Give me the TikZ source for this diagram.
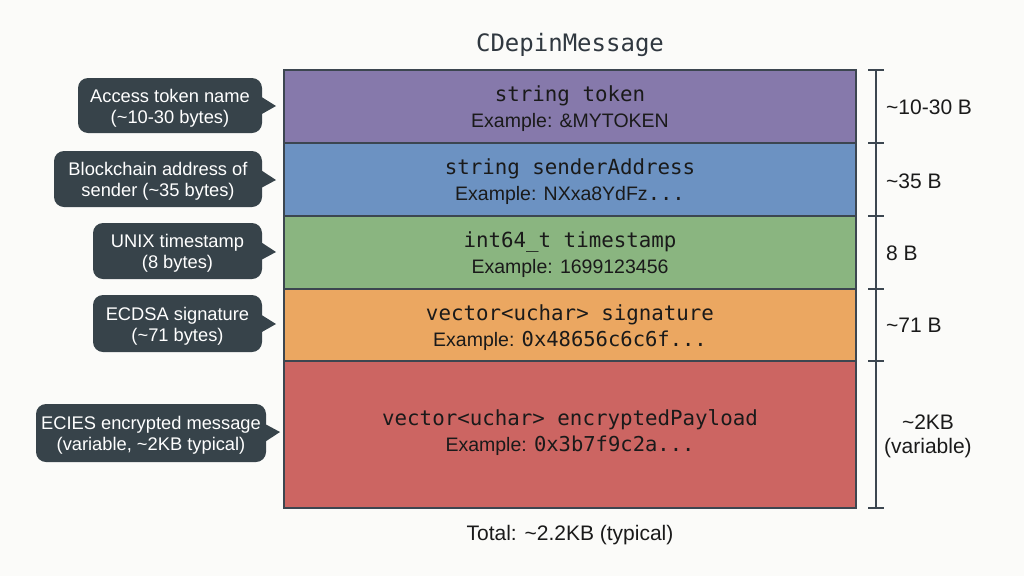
\documentclass[tikz,border=0pt]{standalone}
\usepackage{fontspec}
\setmainfont{Liberation Sans}
\newfontfamily\monof{DejaVu Sans Mono}
\definecolor{bgc}{HTML}{FBFBF9}
\definecolor{cpurple}{HTML}{8679AB}
\definecolor{cblue}{HTML}{6C92C2}
\definecolor{cgreen}{HTML}{8AB580}
\definecolor{corange}{HTML}{EBA761}
\definecolor{cred}{HTML}{CC6562}
\definecolor{edgec}{HTML}{3C4650}
\definecolor{callc}{HTML}{37434A}
\definecolor{txtc}{HTML}{1A1A1A}
\newcommand{\cd}[1]{{\monof\fontsize{20.8}{26}\selectfont #1}}
\newcommand{\cs}[1]{{\monof\fontsize{20.5}{26}\selectfont #1}}
\tikzset{
  rowbox/.style={draw=edgec, line width=1.5pt, minimum width=572pt, inner sep=0pt},
  rowtext/.style={align=center, text=txtc, inner sep=0pt, font=\fontsize{19.5}{26}\selectfont},
  callout/.style={fill=callc, rounded corners=10pt, inner sep=0pt},
  calltext/.style={text=white, align=center, inner sep=0pt, font=\fontsize{18.3}{21}\selectfont},
  pointer/.style={fill=callc},
  scalebar/.style={draw=edgec, line width=1.5pt},
  sizelab/.style={anchor=west, text=txtc, inner sep=0pt, font=\fontsize{21}{24}\selectfont, align=center}
}
\begin{document}
\begin{tikzpicture}[x=1pt,y=-1pt]
\fill[bgc] (0,0) rectangle (1024,576);
\useasboundingbox (0,0) rectangle (1024,576);

\node[text=edgec!80!black, font=\monof\fontsize{24}{28}\selectfont] (title) at (570,45) {CDepinMessage};

% rows
\node[rowbox, fill=cpurple, minimum height=73pt] (r1) at (570,106.5) {};
\node[rowbox, fill=cblue, minimum height=73pt] (r2) at (570,179.5) {};
\node[rowbox, fill=cgreen, minimum height=73pt] (r3) at (570,252.5) {};
\node[rowbox, fill=corange, minimum height=72pt] (r4) at (570,325) {};
\node[rowbox, fill=cred, minimum height=147pt] (r5) at (570,434.5) {};

\node[rowtext] (t1) at ([yshift=-2.5pt]r1.center) {\cd{string token}\\Example: \&MYTOKEN};
\node[rowtext] (t2) at ([yshift=-2.5pt]r2.center) {\cd{string senderAddress}\\Example: NXxa8YdFz\cs{...}};
\node[rowtext] (t3) at ([yshift=-2.5pt]r3.center) {\cd{int64\_t timestamp}\\Example: 1699123456};
\node[rowtext] (t4) at ([yshift=-2.5pt]r4.center) {\cd{vector<uchar> signature}\\Example: \cs{0x48656c6c6f...}};
\node[rowtext] (t5) at ([yshift=1.5pt]r5.center) {\cd{vector<uchar> encryptedPayload}\\Example: \cs{0x3b7f9c2a...}};

% callouts
\node[callout, minimum width=184pt, minimum height=55pt] (c1) at (170,105.5) {};
\node[callout, minimum width=208pt, minimum height=56pt] (c2) at (158,179) {};
\node[callout, minimum width=169pt, minimum height=56pt] (c3) at (177.5,251) {};
\node[callout, minimum width=169pt, minimum height=57pt] (c4) at (177.5,323.5) {};
\node[callout, minimum width=230pt, minimum height=58pt] (c5) at (151,433) {};

\coordinate (p1) at (276,106);
\coordinate (p2) at (276,180);
\coordinate (p3) at (276,252);
\coordinate (p4) at (276,324);
\coordinate (p5) at (280,432);
\foreach \i in {1,...,5}{
  \fill[pointer] ([xshift=-3pt,yshift=10pt]c\i.east) -- (p\i) -- ([xshift=-3pt,yshift=-10pt]c\i.east) -- cycle;
}

\node[calltext] (l1) at ([yshift=-2.5pt]c1.center) {Access token name\\(\textasciitilde10-30 bytes)};
\node[calltext] (l2) at ([yshift=-2.5pt]c2.center) {Blockchain address of\\sender (\textasciitilde35 bytes)};
\node[calltext] (l3) at ([yshift=-2.5pt]c3.center) {UNIX timestamp\\(8 bytes)};
\node[calltext] (l4) at ([yshift=-2.5pt]c4.center) {ECDSA signature\\(\textasciitilde71 bytes)};
\node[calltext] (l5) at ([yshift=-2.5pt]c5.center) {ECIES encrypted message\\(variable, \textasciitilde2KB typical)};

% size scale
\draw[scalebar] (876,70) -- (876,508);
\foreach \y in {70,143,216,289,361,508}{
  \draw[scalebar] (868,\y) -- (884,\y);
}
\node[sizelab] (s1) at (886,107) {\textasciitilde10-30 B};
\node[sizelab] (s2) at (886,181) {\textasciitilde35 B};
\node[sizelab] (s3) at (886,253) {8 B};
\node[sizelab] (s4) at (886,325) {\textasciitilde71 B};
\node[sizelab] (s5) at (884,436) {\textasciitilde2KB\\(variable)};

\node[text=txtc, font=\fontsize{21}{24}\selectfont] (total) at (570,535) {Total: \textasciitilde2.2KB (typical)};
\end{tikzpicture}
\end{document}
